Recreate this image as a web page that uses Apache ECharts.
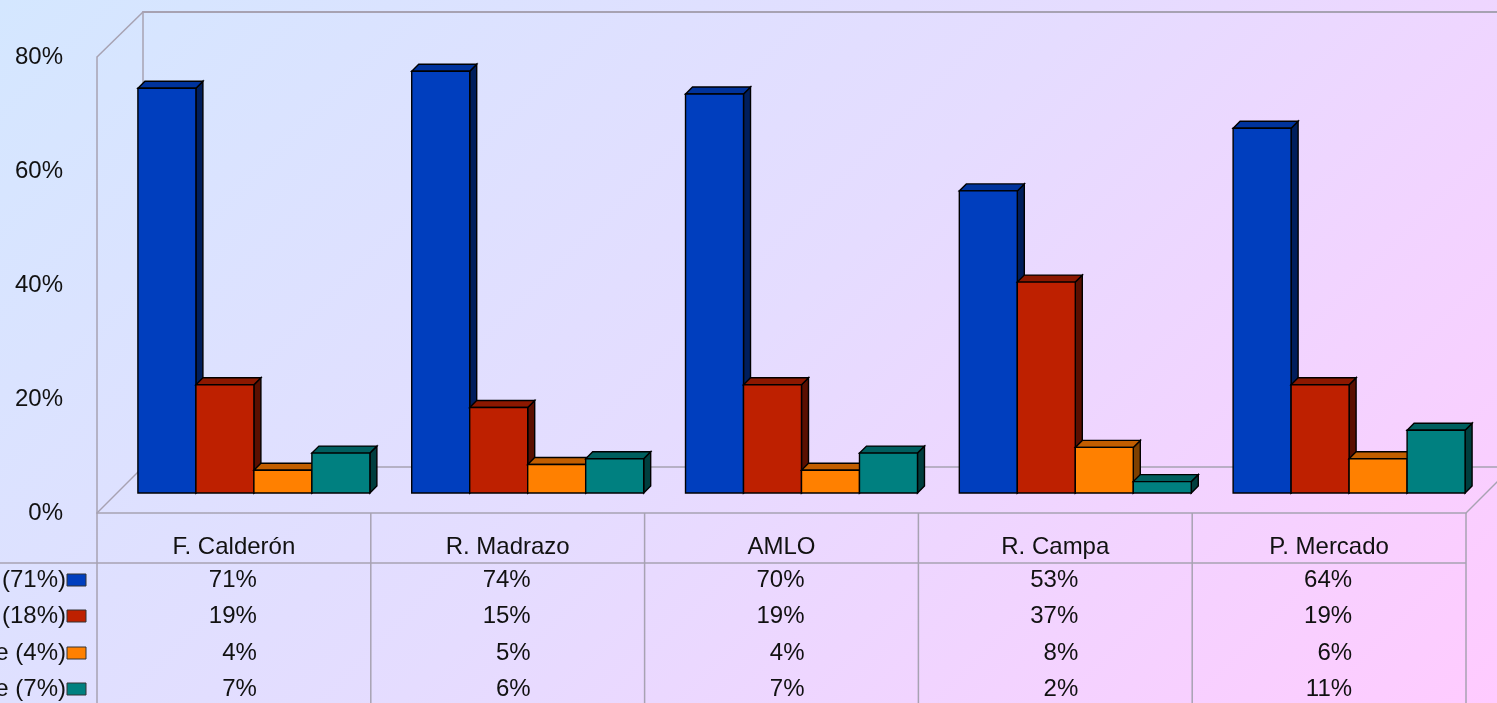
<!DOCTYPE html>
<html>
<head>
<meta charset="utf-8">
<script src="https://cdn.jsdelivr.net/npm/echarts@6/dist/echarts.min.js"></script>
<style>
  html, body { margin: 0; padding: 0; }
  #chart { width: 1497px; height: 703px; }
</style>
</head>
<body>
<div id="chart"></div>
<script>
// ---- data ----
const categories = ['F. Calderón', 'R. Madrazo', 'AMLO', 'R. Campa', 'P. Mercado'];
const seriesNames = ['Buena (71%)', 'Mala (18%)', 'No sabe (4%)', 'No responde (7%)'];
const serieBuena = [71, 74, 70, 53, 64];
const serieMala = [19, 15, 19, 37, 19];
const serieNoSabe = [4, 5, 4, 8, 6];
const serieNoResponde = [7, 6, 7, 2, 11];
const yTicks = [0, 20, 40, 60, 80];

const seriesValues = [serieBuena, serieMala, serieNoSabe, serieNoResponde];

// ---- styles ----
const palette = [
  { front: '#003EBE', top: '#00339C', side: '#001E5C' },
  { front: '#BE2000', top: '#8C1800', side: '#5A0F00' },
  { front: '#FF8000', top: '#C25E00', side: '#7E4000' },
  { front: '#008080', top: '#005F5F', side: '#003E3E' }
];
const FONT = 'Liberation Sans, Arial, sans-serif';
const FS = 24;
const lineColor = '#A7A2B2';

// ---- layout ----
const W = 1497, H = 703;
const FRONT = { left: 97, right: 1466, top: 57, bottom: 513 };
const DEPTH = 46;                // front->back wall offset
const MID = 20;                  // front->bar plane offset
const BAR_DX = 7, BAR_DY = 7;    // bar depth
const ROW_Y = [580, 616, 653, 689];
const HEADER_LINE_Y = 563;

const chart = echarts.init(document.getElementById('chart'), null, { renderer: 'canvas' });

function barRender(k) {
  return function (params, api) {
    const i = api.value(0), v = api.value(1);
    const base = api.coord([i, 0]);
    const top = api.coord([i, v]);
    const catW = api.size([1, 0])[0];
    const bw = catW * 0.2118;
    const x0 = base[0] - 2 * bw + k * bw;
    const x1 = x0 + bw;
    const yb = base[1], yt = top[1];
    const c = palette[k];
    const stroke = { stroke: '#000', lineWidth: 1.4 };
    return {
      type: 'group',
      children: [
        { type: 'polygon', shape: { points: [[x1, yt], [x1 + BAR_DX, yt - BAR_DY], [x1 + BAR_DX, yb - BAR_DY], [x1, yb]] },
          style: Object.assign({ fill: c.side }, stroke) },
        { type: 'polygon', shape: { points: [[x0, yt], [x1, yt], [x1 + BAR_DX, yt - BAR_DY], [x0 + BAR_DX, yt - BAR_DY]] },
          style: Object.assign({ fill: c.top }, stroke) },
        { type: 'rect', shape: { x: x0, y: yt, width: bw, height: yb - yt },
          style: Object.assign({ fill: c.front }, stroke) }
      ]
    };
  };
}

function tableRender(k) {
  return function (params, api) {
    const i = api.value(0), v = api.value(1);
    const x = api.coord([i, 0])[0];
    return {
      type: 'text',
      style: { text: v + '%', x: x + 23, y: ROW_Y[k], align: 'right', verticalAlign: 'middle',
        font: FS + 'px ' + FONT, fill: '#111' }
    };
  };
}

const series = [];
seriesValues.forEach((vals, k) => {
  series.push({
    type: 'custom', name: seriesNames[k], xAxisIndex: 0, yAxisIndex: 0, clip: false, z: 5,
    data: vals.map((v, i) => [i, v]), renderItem: barRender(k)
  });
});
seriesValues.forEach((vals, k) => {
  series.push({
    type: 'custom', name: seriesNames[k] + ' tabla', xAxisIndex: 1, yAxisIndex: 1, clip: false, z: 5,
    data: vals.map((v, i) => [i, v]), renderItem: tableRender(k)
  });
});

// graphic: background, oblique edges, table lines, legend keys
const graphic = [];
graphic.push({
  type: 'rect', z: -100, silent: true, shape: { x: 0, y: 0, width: W, height: H },
  style: { fill: { type: 'linear', x: 0, y: 0, x2: 1100, y2: 1100, global: true,
    colorStops: [{ offset: 0, color: '#D4E7FF' }, { offset: 0.5, color: '#E5DCFF' }, { offset: 1, color: '#FFCBFF' }] } }
});
const ob = { stroke: lineColor, lineWidth: 1.5 };
graphic.push({ type: 'line', z: 1, shape: { x1: FRONT.left, y1: FRONT.top, x2: FRONT.left + DEPTH, y2: FRONT.top - DEPTH + 1 }, style: ob });
graphic.push({ type: 'line', z: 1, shape: { x1: FRONT.left, y1: FRONT.bottom, x2: FRONT.left + DEPTH, y2: FRONT.bottom - DEPTH }, style: ob });
graphic.push({ type: 'line', z: 1, shape: { x1: FRONT.right, y1: FRONT.bottom, x2: FRONT.right + DEPTH, y2: FRONT.bottom - DEPTH }, style: ob });
// table grid
graphic.push({ type: 'line', z: 1, shape: { x1: 0, y1: HEADER_LINE_Y, x2: FRONT.right, y2: HEADER_LINE_Y }, style: ob });
const catWFront = (FRONT.right - FRONT.left) / categories.length;
for (let k = 0; k <= categories.length; k++) {
  const x = FRONT.left + k * catWFront;
  graphic.push({ type: 'line', z: 1, shape: { x1: x, y1: FRONT.bottom, x2: x, y2: H }, style: ob });
}
// legend keys and names
seriesNames.forEach((name, k) => {
  graphic.push({ type: 'rect', z: 3, shape: { x: 67, y: ROW_Y[k] - 6, width: 19, height: 12 },
    style: { fill: palette[k].front, stroke: '#333', lineWidth: 1 } });
  graphic.push({ type: 'text', z: 3, style: { text: name, x: 66, y: ROW_Y[k], align: 'right', verticalAlign: 'middle',
    font: FS + 'px ' + FONT, fill: '#111' } });
});

const option = {
  animation: false,
  grid: [
    // bar plane
    { left: FRONT.left + MID, right: W - FRONT.right - MID, top: FRONT.top - MID, bottom: H - FRONT.bottom + MID },
    // front plane
    { left: FRONT.left, right: W - FRONT.right, top: FRONT.top, bottom: H - FRONT.bottom },
    // back wall
    { left: FRONT.left + DEPTH, right: 0, top: FRONT.top - DEPTH + 1, bottom: H - FRONT.bottom + DEPTH }
  ],
  xAxis: [
    { type: 'category', gridIndex: 0, data: categories, show: false },
    { type: 'category', gridIndex: 1, data: categories, position: 'bottom',
      axisLine: { show: true, lineStyle: { color: lineColor, width: 1.5 } },
      axisTick: { show: false }, splitLine: { show: false },
      axisLabel: { show: true, margin: 22, color: '#111', fontSize: FS, fontFamily: FONT, interval: 0 } },
    { type: 'category', gridIndex: 2, data: categories, position: 'bottom',
      axisLine: { show: true, lineStyle: { color: lineColor, width: 1.5 } },
      axisTick: { show: false }, axisLabel: { show: false } },
    { type: 'category', gridIndex: 2, data: categories, position: 'top',
      axisLine: { show: true, lineStyle: { color: lineColor, width: 2 } },
      axisTick: { show: false }, axisLabel: { show: false } }
  ],
  yAxis: [
    { type: 'value', gridIndex: 0, min: 0, max: 80, interval: 20, show: false },
    { type: 'value', gridIndex: 1, min: 0, max: 80, interval: 20,
      axisLine: { show: true, lineStyle: { color: lineColor, width: 1.5 } },
      axisTick: { show: false }, splitLine: { show: false },
      axisLabel: { show: true, margin: 34, color: '#111', fontSize: FS, fontFamily: FONT,
        customValues: yTicks, formatter: '{value}%' } },
    { type: 'value', gridIndex: 2, min: 0, max: 80, interval: 20,
      axisLine: { show: true, lineStyle: { color: lineColor, width: 1.5 } },
      axisTick: { show: false }, splitLine: { show: false }, axisLabel: { show: false } }
  ],
  graphic: graphic,
  series: series
};
chart.setOption(option);
</script>
</body>
</html>
